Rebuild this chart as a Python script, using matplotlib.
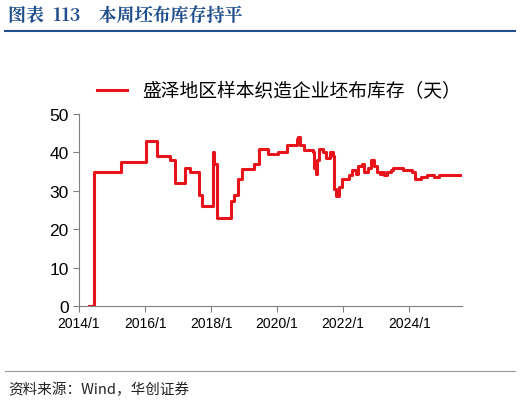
import matplotlib
matplotlib.use("Agg")
import matplotlib.pyplot as plt
from matplotlib.lines import Line2D

plt.rcParams['font.family'] = ['Noto Sans CJK SC', 'DejaVu Sans']

years = [2014.31, 2014.46, 2015.27, 2016.03, 2016.37, 2016.75, 2016.92, 2017.20, 2017.35,
         2017.63, 2017.72, 2018.05, 2018.10, 2018.19, 2018.61, 2018.70, 2018.81, 2018.93,
         2019.29, 2019.44, 2019.72, 2020.02, 2020.30, 2020.60, 2020.64, 2020.68, 2020.80,
         2021.10, 2021.13, 2021.18, 2021.21, 2021.28, 2021.38, 2021.48, 2021.60, 2021.68,
         2021.73, 2021.78, 2021.86, 2021.97, 2022.09, 2022.19, 2022.26, 2022.39, 2022.46,
         2022.57, 2022.64, 2022.74, 2022.84, 2022.94, 2023.04, 2023.11, 2023.19, 2023.24,
         2023.34, 2023.45, 2023.50, 2023.75, 2023.80, 2024.10, 2024.18, 2024.35, 2024.55,
         2024.76, 2024.91, 2025.56]
values = [0, 35, 37.5, 43, 39, 38, 32, 36, 35,
          29, 26, 40, 37, 23, 27.4, 29, 33, 35.7,
          37, 41, 39.6, 40, 42, 43.5, 44, 42, 40.6,
          40, 36, 34.5, 38, 41, 40, 38.5, 40, 39,
          30.4, 28.7, 31, 33, 33, 34, 35.5, 34.5, 36.5,
          37, 35, 36, 38, 36.5, 35, 34.5, 35, 34,
          35, 35.5, 36, 36, 35.3, 35, 33, 33.5, 34.2,
          33.5, 34, 34]
xticks = [2014, 2016, 2018, 2020, 2022, 2024]
xticklabels = ['2014/1', '2016/1', '2018/1', '2020/1', '2022/1', '2024/1']
yticks = [0, 10, 20, 30, 40, 50]
series_name = '盛泽地区样本织造企业坯布库存（天）'

fig = plt.figure(figsize=(5.2, 4.1), dpi=100)
ax = fig.add_axes([79/520, 1-307/410, (462-79)/520, (307-115)/410])
red = '#e8141c'
ax.plot(years, values, color=red, lw=2.2, drawstyle='steps-post')
ax.set_xlim(2014, 2025.6)
ax.set_ylim(0, 50)
ax.set_xticks(xticks)
ax.set_xticklabels(xticklabels, fontsize=10, family=['Arial', 'Liberation Sans', 'DejaVu Sans'])
ax.set_yticks(yticks)
ax.set_yticklabels([str(v) for v in yticks], fontsize=12.5, family=['Liberation Sans', 'DejaVu Sans'])
for s in ['top', 'right']:
    ax.spines[s].set_visible(False)
for s in ['left', 'bottom']:
    ax.spines[s].set_color('#808080')
ax.tick_params(colors='black', length=4, color='#808080')

fig.legend(handles=[Line2D([], [], color=red, lw=2.2)], labels=[series_name],
           loc='center left', bbox_to_anchor=(80/520, 1-92/410), frameon=False,
           fontsize=13.5, handlelength=1.6)

blue = '#1f4e8c'
fig.text(8/520, 1-16/410, '图表  113    本周坯布库存持平', color=blue, fontsize=13,
         fontweight='bold', va='center', family=['Noto Serif CJK SC', 'Noto Sans CJK SC', 'DejaVu Sans'])
fig.add_artist(Line2D([5/520, 515/520], [1-32/410, 1-32/410], color=blue, lw=1.5))
fig.add_artist(Line2D([5/520, 515/520], [1-372/410, 1-372/410], color='#999999', lw=0.8))
fig.text(8/520, 1-390/410, '资料来源：Wind，华创证券', fontsize=10.5, style='italic',
         va='center', color='#222222')

fig.savefig('out.png', dpi=100)
